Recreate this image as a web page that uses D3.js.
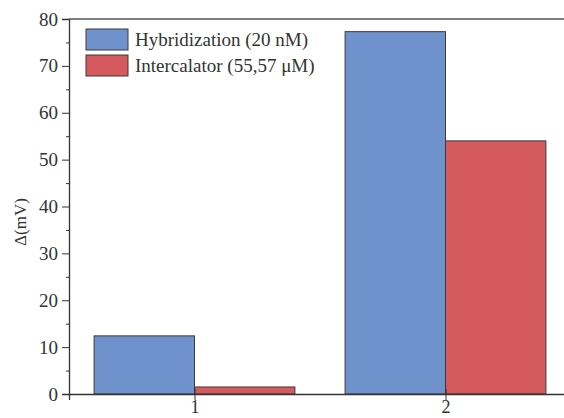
<!DOCTYPE html>
<html>
<head>
<meta charset="utf-8">
<script src="https://cdn.jsdelivr.net/npm/d3@7"></script>
<style>
  body { margin: 0; background: #fff; }
  svg { display: block; }
</style>
</head>
<body>
<svg id="chart"></svg>
<script>
const categories = ['1', '2'];
const seriesNames = ['Hybridization (20 nM)', 'Intercalator (55,57 \u03BCM)'];
const hybridization = [12.4, 77.3];
const intercalator = [1.5, 54.0];
const yTicks = [0, 10, 20, 30, 40, 50, 60, 70, 80];

const WIDTH = 564,
      HEIGHT = 418,
      MARGINS = { top: 19, right: -7, bottom: 24, left: 69 };
const colors = ['#6f92cc', '#d45a5e'];
const FONT = '"Liberation Serif", "Times New Roman", serif';

const svg = d3.select('#chart')
   .attr('width', WIDTH)
   .attr('height', HEIGHT);

const innerW = WIDTH - MARGINS.left - MARGINS.right,
      innerH = HEIGHT - MARGINS.top - MARGINS.bottom;

// numeric x so the bars sit at 1 and 2 with a half-unit pad on each side
const x = d3.scaleLinear().domain([0.5, 2.5]).range([0, innerW]);
const y = d3.scaleLinear().domain([0, 80]).range([innerH, 0]);
const barW = 0.4;

const g = svg.append('g')
   .attr('transform', 'translate(' + MARGINS.left + ',' + MARGINS.top + ')');

const series = [hybridization, intercalator];
series.forEach((vals, s) => {
   g.selectAll('.bar' + s)
      .data(vals)
      .enter().append('rect')
      .attr('class', 'bar' + s)
      .attr('x', (d, i) => x(i + 1 + (s === 0 ? -barW : 0)))
      .attr('width', (d, i) => x(i + 1 + barW) - x(i + 1))
      .attr('y', d => y(d))
      .attr('height', d => y(0) - y(d))
      .attr('fill', colors[s])
      .attr('stroke', '#3a3a3a')
      .attr('stroke-width', 1);
});

// y axis with minor ticks
const yAxis = g.append('g')
   .call(d3.axisLeft(y).tickValues(yTicks).tickSize(7).tickPadding(4));
yAxis.selectAll('.tick line').attr('stroke', '#333');
yAxis.select('.domain').attr('stroke', '#333').attr('stroke-width', 1.3);
yAxis.selectAll('text')
   .attr('font-family', FONT)
   .attr('font-size', 19)
   .attr('fill', '#333');
g.append('g')
   .call(d3.axisLeft(y).tickValues(d3.range(5, 80, 10)).tickSize(3).tickFormat(''))
   .call(a => a.select('.domain').remove())
   .selectAll('.tick line').attr('stroke', '#333');

// x axis (baseline) and ticks crossing it
const xAxis = g.append('g')
   .attr('transform', 'translate(0,' + innerH + ')')
   .call(d3.axisBottom(x).tickValues([1, 2]).tickFormat((d, i) => categories[i]).tickSize(6).tickPadding(0));
xAxis.select('.domain').attr('stroke', '#333').attr('stroke-width', 1.3);
xAxis.selectAll('.tick line').attr('y1', -5).attr('stroke', '#333');
xAxis.selectAll('text')
   .attr('font-family', FONT)
   .attr('font-size', 18)
   .attr('fill', '#333');

// top frame line
g.append('line')
   .attr('x1', 0).attr('x2', innerW)
   .attr('y1', 0).attr('y2', 0)
   .attr('stroke', '#555')
   .attr('stroke-width', 1.3);

// y label
svg.append('text')
   .attr('transform', 'translate(26,222) rotate(-90)')
   .attr('text-anchor', 'middle')
   .attr('font-family', FONT)
   .attr('font-size', 17)
   .attr('fill', '#333')
   .text('\u0394(mV)');

// legend
const legend = g.append('g').attr('transform', 'translate(17,10)');
seriesNames.forEach((name, i) => {
   const row = legend.append('g').attr('transform', 'translate(0,' + (i * 26) + ')');
   row.append('rect')
      .attr('width', 42).attr('height', 21)
      .attr('fill', colors[i])
      .attr('stroke', '#3a3a3a');
   row.append('text')
      .attr('x', 49).attr('y', 17)
      .attr('font-family', FONT)
      .attr('font-size', 19)
      .attr('fill', '#333')
      .text(name);
});
</script>
</body>
</html>
